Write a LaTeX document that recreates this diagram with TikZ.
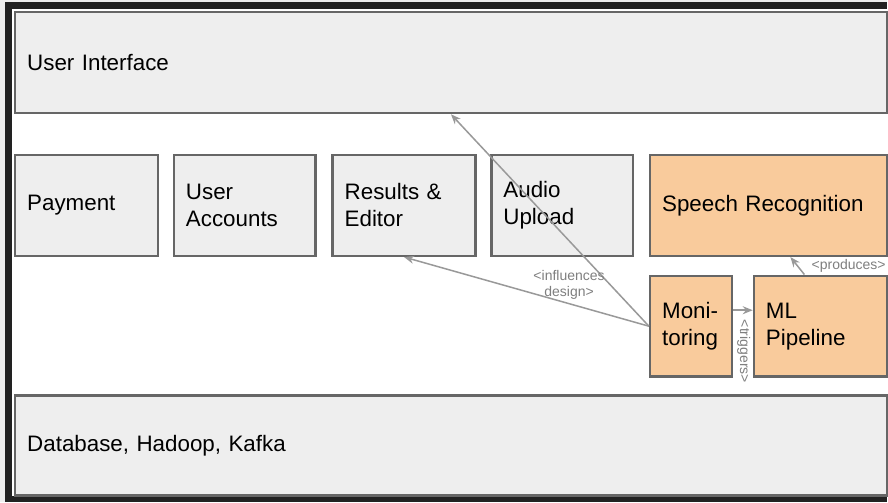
\documentclass[tikz,border=0pt]{standalone}
\usepackage{fontspec}
\setmainfont{Liberation Sans}
\usetikzlibrary{arrows.meta}
\definecolor{boxfill}{HTML}{EEEEEE}
\definecolor{boxedge}{HTML}{666666}
\definecolor{mlfill}{HTML}{F9CB9C}
\definecolor{linkgray}{HTML}{999999}
\definecolor{taggray}{HTML}{7F7F7F}
\definecolor{frame}{HTML}{222222}
\begin{document}
\begin{tikzpicture}[x=1pt,y=-1pt,
  comp/.style={draw=boxedge,fill=boxfill,line width=2.5pt,anchor=north west,
    inner xsep=12pt,inner ysep=0pt,align=left,minimum height=101pt,
    font=\fontsize{22.4}{27}\selectfont},
  ml/.style={comp,fill=mlfill},
  link/.style={draw=linkgray,line width=1.5pt,-{Stealth[length=10pt,width=8pt]}},
  tag/.style={text=taggray,inner sep=0pt,align=center,font=\fontsize{14}{16}\selectfont}]
\fill[boxfill] (0,0) rectangle (888,503);
\fill[frame] (5,2) rectangle (888,503);
\fill[white] (12,9) rectangle (888,497);
\node[comp,minimum width=873pt,text width=849pt] (ui) at (14,11) {User Interface};
\node[comp,minimum width=143pt,text width=119pt] (pay) at (14,154) {Payment};
\node[comp,minimum width=142pt,text width=118pt] (acc) at (173,154) {User\\Accounts};
\node[comp,minimum width=143pt,text width=119pt] (res) at (332,154) {Results \&\\Editor};
\node[comp,minimum width=142pt,text width=118pt] (upl) at (491,154) {Audio\\Upload};
\node[ml,minimum width=237pt,text width=213pt] (asr) at (650,154) {Speech Recognition};
\node[ml,minimum width=82pt,text width=58pt] (mon) at (650,275) {Moni-\\toring};
\node[ml,minimum width=133pt,text width=109pt] (mlp) at (754,275) {ML\\Pipeline};
\node[comp,minimum width=873pt,text width=849pt,minimum height=100pt] (db) at (14,395) {Database, Hadoop, Kafka};
\draw[link] (mon.west) -- (ui.south);
\draw[link] (mon.west) -- (res.south);
\draw[link] ([yshift=16pt]mon.east) -- ([yshift=16pt]mlp.west);
\draw[link] ([xshift=-16pt]mlp.north) -- ([xshift=22pt]asr.south);
\node[tag] (t1) at (570,285) {<influences\\design>};
\node[tag] (t2) at (850,266) {<produces>};
\node[tag,rotate=-90] (t3) at (745,352) {<triggers>};
\end{tikzpicture}
\end{document}
